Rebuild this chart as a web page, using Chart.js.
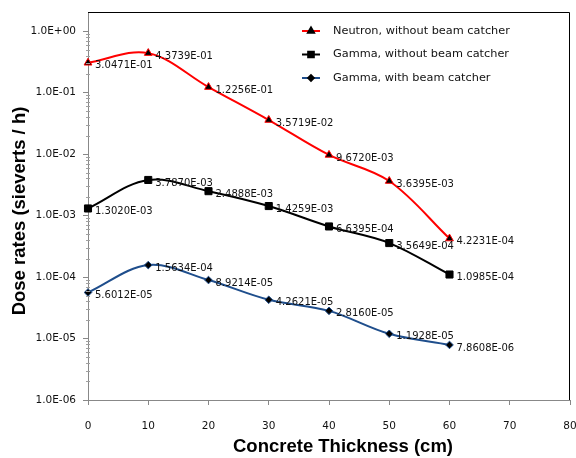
<!DOCTYPE html>
<html>
<head>
<meta charset="utf-8">
<script src="https://cdn.jsdelivr.net/npm/chart.js@4.4.1/dist/chart.umd.min.js"></script>
<style>
  html, body { margin: 0; padding: 0; background: #fff; }
  #wrap { width: 576px; height: 458px; position: relative; }
</style>
</head>
<body>
<div id="wrap"><canvas id="doseChart"></canvas></div>
<script>
// concrete thickness (cm)
var thickness = [0, 10, 20, 30, 40, 50, 60];

// dose rates (Sv/h)
var neutronNoCatcher = [3.0471e-01, 4.3739e-01, 1.2256e-01, 3.5719e-02, 9.6720e-03, 3.6395e-03, 4.2231e-04];
var gammaNoCatcher = [1.3020e-03, 3.7870e-03, 2.4888e-03, 1.4259e-03, 6.6395e-04, 3.5649e-04, 1.0985e-04];
var gammaWithCatcher = [5.6012e-05, 1.5634e-04, 8.9214e-05, 4.2621e-05, 2.8160e-05, 1.1928e-05, 7.8608e-06];

var seriesNames = ['Neutron, without beam catcher', 'Gamma, without beam catcher', 'Gamma, with beam catcher'];
var yDecades = [1e-6, 1e-5, 1e-4, 1e-3, 1e-2, 1e-1, 1e0];
var xTicks = [0, 10, 20, 30, 40, 50, 60, 70, 80];
var xTitle = 'Concrete Thickness (cm)';
var yTitle = 'Dose rates (sieverts / h)';

function sci(v){
    // Excel style 0.0000E+00
    var s = v.toExponential(4).toUpperCase();
    var parts = s.split('E');
    var exp = parseInt(parts[1], 10);
    var sign = exp < 0 ? '-' : '+';
    var e = Math.abs(exp);
    return parts[0] + 'E' + sign + (e < 10 ? '0' + e : e);
}

function sciTick(v){
    var exp = Math.round(Math.log10(v));
    var sign = exp < 0 ? '-' : '+';
    var e = Math.abs(exp);
    return '1.0E' + sign + (e < 10 ? '0' + e : e);
}

function toPoints(arr){
    return thickness.map(function(x, i){ return {x: x, y: arr[i]}; });
}

var labelFont = '10px "DejaVu Sans", sans-serif';
var titleFont = 'bold 18.5px "Liberation Sans", Arial, sans-serif';

// value labels next to each marker
var valueLabels = {
    id: 'valueLabels',
    afterDatasetsDraw: function(chart){
        var ctx = chart.ctx;
        ctx.save();
        ctx.font = labelFont;
        ctx.fillStyle = '#111';
        ctx.textAlign = 'left';
        ctx.textBaseline = 'middle';
        chart.data.datasets.forEach(function(ds, di){
            var meta = chart.getDatasetMeta(di);
            meta.data.forEach(function(pt, i){
                ctx.fillText(sci(ds.data[i].y), pt.x + 7, pt.y + 3);
            });
        });
        ctx.restore();
    }
};

// minor log ticks, top/right frame, axis titles, legend box
var extras = {
    id: 'extras',
    afterDraw: function(chart){
        var ctx = chart.ctx;
        var area = chart.chartArea;
        var y = chart.scales.y;
        ctx.save();

        // minor ticks
        ctx.strokeStyle = '#a0a0a0';
        ctx.lineWidth = 1;
        for(var d = 0; d < yDecades.length - 1; d++){
            for(var k = 2; k <= 9; k++){
                var py = Math.round(y.getPixelForValue(yDecades[d] * k)) + 0.5;
                ctx.beginPath();
                ctx.moveTo(area.left - 2, py);
                ctx.lineTo(area.left + 2, py);
                ctx.stroke();
            }
        }

        // frame top/right
        ctx.strokeStyle = '#000';
        ctx.beginPath();
        ctx.moveTo(area.left, area.top + 0.5);
        ctx.lineTo(area.right - 0.5, area.top + 0.5);
        ctx.lineTo(area.right - 0.5, area.bottom);
        ctx.stroke();

        // axis titles
        ctx.fillStyle = '#000';
        ctx.font = titleFont;
        ctx.textAlign = 'center';
        ctx.textBaseline = 'middle';
        ctx.fillText(xTitle, 343, 447);
        ctx.save();
        ctx.translate(20, 211);
        ctx.rotate(-Math.PI / 2);
        ctx.fillText(yTitle, 0, 0);
        ctx.restore();

        // legend
        var lx = 302, ly = 31, step = 23.5;
        chart.data.datasets.forEach(function(ds, i){
            var cy = ly + i * step;
            ctx.strokeStyle = ds.borderColor;
            ctx.lineWidth = 2;
            ctx.beginPath();
            ctx.moveTo(lx, cy);
            ctx.lineTo(lx + 18, cy);
            ctx.stroke();
            ctx.fillStyle = '#000';
            ctx.strokeStyle = '#000';
            Chart.helpers.drawPoint(ctx, {
                pointStyle: ds.pointStyle,
                radius: ds.pointRadius - 1,
                rotation: 0,
                borderWidth: 1
            }, lx + 9, cy);
            ctx.fillStyle = '#111';
            ctx.font = '11.3px "DejaVu Sans", sans-serif';
            ctx.textAlign = 'left';
            ctx.textBaseline = 'middle';
            ctx.fillText(ds.label, lx + 31, cy);
        });
        ctx.restore();
    }
};

var ctx = document.getElementById('doseChart');

new Chart(ctx, {
    type: 'line',
    data: {
        datasets: [
            {
                label: seriesNames[0],
                data: toPoints(neutronNoCatcher),
                borderColor: '#ff0000',
                pointStyle: 'triangle',
                pointRadius: 4.5,
            },
            {
                label: seriesNames[1],
                data: toPoints(gammaNoCatcher),
                borderColor: '#000000',
                pointStyle: 'rect',
                pointRadius: 5,
            },
            {
                label: seriesNames[2],
                data: toPoints(gammaWithCatcher),
                borderColor: '#1f4e8c',
                pointStyle: 'rectRot',
                pointRadius: 3.8,
            },
        ]
    },
    options: {
        responsive: true,
        maintainAspectRatio: false,
        animation: false,
        clip: false,
        layout: {
            padding: { top: 12, right: 6, left: 0, bottom: 0 }
        },
        elements: {
            line: { borderWidth: 2, tension: 0.35 },
            point: {
                backgroundColor: '#000',
                borderColor: '#000',
                borderWidth: 1,
                hoverRadius: 5
            }
        },
        plugins: {
            legend: { display: false },
            tooltip: { enabled: false }
        },
        scales: {
            x: {
                type: 'linear',
                min: 0,
                max: 80,
                afterBuildTicks: function(scale){
                    scale.ticks = xTicks.map(function(v){ return {value: v}; });
                },
                afterFit: function(scale){
                    scale.height = 58;
                    scale.paddingRight = 0;
                    scale.paddingLeft = 0;
                },
                grid: {
                    drawOnChartArea: false,
                    color: '#888',
                    tickLength: 5
                },
                border: { color: '#888', width: 1 },
                ticks: {
                    color: '#111',
                    padding: 15,
                    font: { family: 'DejaVu Sans', size: 10.5 }
                }
            },
            y: {
                type: 'logarithmic',
                min: 1e-6,
                max: 2.04,
                afterBuildTicks: function(scale){
                    scale.ticks = yDecades.map(function(v){ return {value: v}; });
                },
                afterFit: function(scale){
                    scale.width = 88;
                    scale.paddingTop = 0;
                    scale.paddingBottom = 0;
                },
                grid: {
                    drawOnChartArea: false,
                    color: '#888',
                    tickLength: 5
                },
                border: { color: '#888', width: 1 },
                ticks: {
                    color: '#111',
                    padding: 7,
                    font: { family: 'DejaVu Sans', size: 10.5 },
                    callback: function(v){ return sciTick(v); }
                }
            }
        }
    },
    plugins: [valueLabels, extras]
});
</script>
</body>
</html>
